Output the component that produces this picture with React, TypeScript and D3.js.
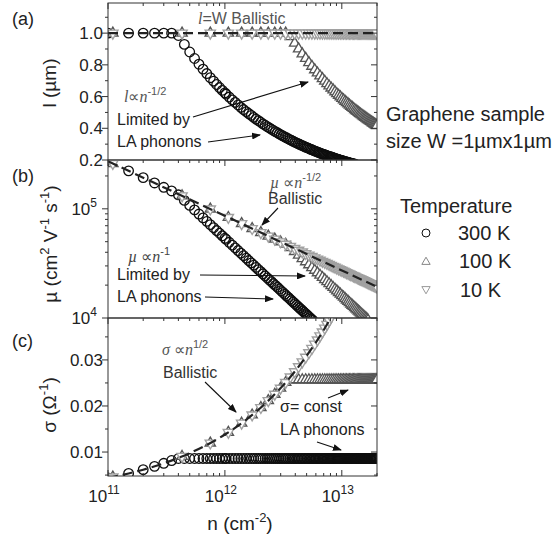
import React from "react";
import * as d3 from "d3";

// carrier density grids, in units of 1e11 cm^-2
const N_UNIT = 1e11;
const nCircle = [1,1.5,2,2.5,3,3.5,4,4.5,5,5.5,6,6.5,7,7.5,8,8.5,9,9.5,10,
  10.24,10.89,11.56,12.25,12.96,13.69,14.44,15.21,16,16.81,17.64,18.49,19.36,20.25,21.16,22.09,23.04,24.01,25,
  26.01,27.04,28.09,29.16,30.25,31.36,32.49,33.64,34.81,36,37.21,38.44,39.69,40.96,42.25,43.56,44.89,46.24,47.61,49,
  50.41,51.84,53.29,54.76,56.25,57.76,59.29,60.84,62.41,64,65.61,67.24,68.89,70.56,72.25,73.96,75.69,77.44,79.21,81,
  82.81,84.64,86.49,88.36,90.25,92.16,94.09,96.04,98.01,100,102.01,104.04,106.09,108.16,110.25,112.36,114.49,116.64,118.81,121,
  123.21,125.44,127.69,129.96,132.25,134.56,136.89,139.24,141.61,144,146.41,148.84,151.29,153.76,156.25,158.76,161.29,163.84,166.41,169,
  171.61,174.24,176.89,179.56,182.25,184.96,187.69,190.44,193.21,196,198.81];
const nTri = [1.1,4.3,7.5,10.7,13.9,17.1,20.3,23.5,26.7,29.9,33.1,36.3,39.5,42.7,45.9,49.1,52.3,55.5,58.7,61.9,65.1,68.3,71.5,74.7,77.9,81.1,84.3,87.5,90.7,93.9,97.1,100.3,103.5,106.7,109.9,113.1,116.3,119.5,122.7,125.9,129.1,132.3,135.5,138.7,141.9,145.1,148.3,151.5,154.7,157.9,161.1,164.3,167.5,170.7,173.9,177.1,180.3,183.5,186.7,189.9,193.1,196.3,199.5];

// (a) mean free path l (um)
const l300 = [1,1,1,1,1,1,0.985,0.929,0.881,0.840,0.804,0.773,0.745,0.719,0.697,0.676,0.657,0.639,0.623,
  0.616,0.597,0.579,0.563,0.547,0.532,0.518,0.505,0.493,0.481,0.469,0.458,0.448,0.438,0.428,0.419,0.410,0.402,0.394,
  0.386,0.379,0.372,0.365,0.358,0.352,0.346,0.340,0.334,0.328,0.323,0.318,0.313,0.308,0.303,0.299,0.294,0.290,0.286,0.281,
  0.278,0.274,0.270,0.266,0.263,0.259,0.256,0.253,0.249,0.246,0.243,0.240,0.237,0.235,0.232,0.229,0.226,0.224,0.221,0.219,
  0.217,0.214,0.212,0.210,0.207,0.205,0.203,0.201,0.199,0.197,0.195,0.193,0.191,0.189,0.188,0.186,0.184,0.182,0.181,0.179,
  0.178,0.176,0.174,0.173];
const l100 = [1,1,1,1,1,1,1,1,1,1,1,0.978,0.937,0.901,0.869,0.841,0.814,0.791,0.769,0.749,0.730,0.713,0.697,0.681,0.667,0.654,0.642,0.630,0.618,0.608,0.598,0.588,0.579,0.570,0.562,0.554,0.546,0.539,0.532,0.525,0.518,0.512,0.506,0.500,0.494,0.489,0.484,0.479,0.474,0.469,0.464,0.460,0.455,0.451,0.447,0.443,0.439,0.435,0.431,0.427,0.424,0.420,0.417];
const l10 = [1,1,1,1,1,1,1,1,1,1,1,1,1,1,1,1,1,1,1,1,1,1,1,1,1,1,1,1,1,1,1,1,1,1,1,1,1,1,1,1,1,1,1,1,1,1,1,1,1,1,1,1,1,1,1,1,1,1,1,1,1,1,1];

// (b) mobility (cm^2 V^-1 s^-1)
const mu300 = [273000,222700,192900,172500,157500,145800,134400,119400,107500,97730,89580,82690,76790,71670,67190,63240,59720,56580,53750,
  52490,49360,46500,43880,41470,39260,37220,35340,33590,31980,30470,29070,27760,26540,25400,24330,23330,22390,21500,
  20670,19880,19140,18430,17770,17140,16540,15980,15440,14930,14450,13980,13540,13120,12720,12340,11970,11620,11290,10970,
  10660,10370,10090,9816,9556];
const mu100 = [260100,131500,99590,83380,73160,65960,60540,56260,52780,49880,47410,44240,40660,37610,34990,32710,30710,28940,27360,25940,24670,23510,22460,21500,20620,19800,19050,18350,17710,17100,16540,16010,15520,15050,14610,14200,13810,13440,13090,12760,12440,12140,11850,11580,11320,11070,10830,10600,10380,10170,9970,9770,9590];
const mu10 = [260100,131500,99590,83380,73160,65960,60540,56260,52780,49880,47410,45270,43400,41740,40260,38920,37710,36610,35600,34670,33800,33000,32260,31560,30900,30290,29710,29160,28640,28150,27680,27230,26810,26400,26020,25650,25290,24950,24620,24310,24010,23710,23430,23160,22900,22640,22400,22160,21930,21710,21490,21280,21070,20880,20680,20500,20310,20140,19960,19790,19630,19470,19310];

// (c) conductivity (1/Ohm)
const sigma300 = [0.00436,0.00535,0.00617,0.0069,0.00756,0.00816,
  0.0086,0.0086,0.0086,0.0086,0.0086,0.0086,0.0086,0.0086,0.0086,0.0086,0.0086,0.0086,0.0086,
  0.0086,0.0086,0.0086,0.0086,0.0086,0.0086,0.0086,0.0086,0.0086,0.0086,0.0086,0.0086,0.0086,0.0086,0.0086,0.0086,0.0086,0.0086,0.0086,
  0.0086,0.0086,0.0086,0.0086,0.0086,0.0086,0.0086,0.0086,0.0086,0.0086,0.0086,0.0086,0.0086,0.0086,0.0086,0.0086,0.0086,0.0086,0.0086,0.0086,
  0.0086,0.0086,0.0086,0.0086,0.0086,0.0086,0.0086,0.0086,0.0086,0.0086,0.0086,0.0086,0.0086,0.0086,0.0086,0.0086,0.0086,0.0086,0.0086,0.0086,
  0.0086,0.0086,0.0086,0.0086,0.0086,0.0086,0.0086,0.0086,0.0086,0.0086,0.0086,0.0086,0.0086,0.0086,0.0086,0.0086,0.0086,0.0086,0.0086,0.0086,
  0.0086,0.0086,0.0086,0.0086,0.0086,0.0086,0.0086,0.0086,0.0086,0.0086,0.0086,0.0086,0.0086,0.0086,0.0086,0.0086,0.0086,0.0086,0.0086,0.0086,
  0.0086,0.0086,0.0086,0.0086,0.0086,0.0086,0.0086,0.0086,0.0086,0.0086,0.0086];
const sigma100 = [0.00458,0.00905,0.01195,0.01428,0.01627,0.01805,0.01966,0.02116,0.02255,0.02386,0.02511,
  0.0257,0.0257,0.0257,0.0257,0.0257,0.0257,0.0257,0.0257,0.0257,0.0257,0.0257,0.0257,0.0257,
  0.0257,0.0257,0.0257,0.0257,0.0257,0.0257,0.0257,0.0257,0.0257,0.0257,0.0257,0.0257,0.0257,
  0.0257,0.0257,0.0257,0.0257,0.0257,0.0257,0.0257,0.0257,0.0257,0.0257,0.0257,0.0257,0.0257,
  0.0257,0.0257,0.0257,0.0257,0.0257,0.0257,0.0257,0.0257,0.0257,0.0257,0.0257,0.0257,0.0257];
const sigma10 = [0.00458,0.00905,0.01195,0.01428,0.01627,0.01805,0.01966,0.02116,0.02255,0.02386,0.02511,0.02629,0.02743,0.02852,0.02957,0.03058,0.03156,0.03251,0.03344,0.03434,0.03521,0.03607,0.0369,0.03772,0.03852,0.0393];

// ballistic reference (dashed) curves
const balLN = [1, 200];
const balL = [1, 1];
const balMuN = [1, 200];
const balMu = [272750, 19290];
const balSigN = [1,1.5,2,3,5,7,10,15,20,30,40,50,60,70,80,90];
const balSig = [0.00436,0.00535,0.00617,0.00756,0.00976,0.01155,0.0138,0.0169,0.0195,0.0239,0.0276,0.0309,0.0338,0.0365,0.039,0.0414];

// tick values / labels
const xMajor = [1e11, 1e12, 1e13];
const xMajorExp = ["11", "12", "13"];
const yaMajor = [0.2, 0.4, 0.6, 0.8, 1.0];
const yaMinor = [0.3, 0.5, 0.7, 0.9, 1.1];
const yaLabels = ["0.2", "0.4", "0.6", "0.8", "1.0"];
const ybMajor = [1e4, 1e5];
const ybExp = ["4", "5"];
const ycMajor = [0.01, 0.02, 0.03];
const ycMinor = [0.005, 0.015, 0.025, 0.035];
const ycLabels = ["0.01", "0.02", "0.03"];

const C300 = "#0e0e0e";
const C100 = "#555555";
const C10 = "#a0a0a0";
const SANS = "'Liberation Sans', Arial, Helvetica, sans-serif";
const SERIF = "'Liberation Serif', 'Times New Roman', serif";

const X0 = 108, X1 = 377;
const PA = [3, 160], PB = [160, 318], PC = [318, 476];

const triPath = d3.symbol(d3.symbolTriangle, 46)() as string;
const triLegend = d3.symbol(d3.symbolTriangle, 30)() as string;

function Series({ ns, vals, x, y, kind, color }: any) {
  return (
    <g>
      {vals.map((v: number, i: number) => {
        const cx = x(ns[i] * N_UNIT);
        const cy = y(v);
        if (kind === "circle")
          return <circle key={i} cx={cx} cy={cy} r={4.8} fill="none" stroke={color} strokeWidth={1.3} />;
        return (
          <path key={i} d={triPath} transform={`translate(${cx},${cy})${kind === "down" ? " rotate(180)" : ""}`}
            fill="#fff" stroke={color} strokeWidth={1.35} />
        );
      })}
    </g>
  );
}

function Arrow({ x1, y1, x2, y2 }: any) {
  return <line x1={x1} y1={y1} x2={x2} y2={y2} stroke="#111" strokeWidth={1.1} markerEnd="url(#arr)" />;
}

export default function App() {
  const x = d3.scaleLog().domain([1e11, 2e13]).range([X0, X1]);
  const ya = d3.scaleLinear().domain([0.2, 1.19]).range([PA[1], PA[0]]);
  const yb = d3.scaleLog().domain([1e4, 2.8e5]).range([PB[1], PB[0]]);
  const yc = d3.scaleLinear().domain([0.0048, 0.0391]).range([PC[1], PC[0]]);

  const xTicks = x.ticks();
  const isMajorLog = (t: number) => Math.abs(Math.log10(t) - Math.round(Math.log10(t))) < 1e-6;
  const ybTicks = yb.ticks();

  const lineA = d3.line<number>().x((d) => x(d * N_UNIT)).y((_, i) => ya(balL[i]));
  const lineB = d3.line<number>().x((d) => x(d * N_UNIT)).y((_, i) => yb(balMu[i]));
  const lineC = d3.line<number>().x((d) => x(d * N_UNIT)).y((_, i) => yc(balSig[i])).curve(d3.curveMonotoneX);

  const frame = (top: number, bottom: number, bottomTicks: boolean) => (
    <g>
      <rect x={X0} y={top} width={X1 - X0} height={bottom - top} fill="none" stroke="#333" strokeWidth={1} />
      {xTicks.map((t, i) => {
        const L = isMajorLog(t) ? 6 : 3;
        const xx = x(t);
        return (
          <g key={i}>
            <line x1={xx} x2={xx} y1={top} y2={top + L} stroke="#333" />
            {bottomTicks && <line x1={xx} x2={xx} y1={bottom} y2={bottom - L} stroke="#333" />}
          </g>
        );
      })}
    </g>
  );

  const yTick = (yy: number, major: boolean, k: string) => {
    const L = major ? 6 : 3;
    return (
      <g key={k}>
        <line x1={X0 - L} x2={X0} y1={yy} y2={yy} stroke="#333" />
        <line x1={X1 - L} x2={X1} y1={yy} y2={yy} stroke="#333" />
      </g>
    );
  };

  return (
    <svg width={560} height={540} style={{ position: "absolute", left: 0, top: 0, background: "#fff" }}
      fontFamily={SANS}>
      <defs>
        <clipPath id="ca"><rect x={X0} y={PA[0]} width={X1 - X0} height={PA[1] - PA[0]} /></clipPath>
        <clipPath id="cb"><rect x={X0} y={PB[0]} width={X1 - X0} height={PB[1] - PB[0]} /></clipPath>
        <clipPath id="cc"><rect x={X0} y={PC[0]} width={X1 - X0} height={PC[1] - PC[0]} /></clipPath>
        <marker id="arr" markerUnits="userSpaceOnUse" markerWidth={9} markerHeight={7} refX={8} refY={3.5} orient="auto">
          <path d="M0,0 L9,3.5 L0,7 Z" fill="#111" />
        </marker>
      </defs>

      {/* Panel (a) */}
      <g clipPath="url(#ca)">
        <Series ns={nCircle} vals={l300} x={x} y={ya} kind="circle" color={C300} />
        <Series ns={nTri} vals={l100} x={x} y={ya} kind="up" color={C100} />
        <Series ns={nTri} vals={l10} x={x} y={ya} kind="down" color={C10} />
        <path d={lineA(balLN) as string} fill="none" stroke="#222" strokeWidth={2.2} strokeDasharray="10,5" />
      </g>
      {frame(PA[0], PA[1], false)}
      {yaMajor.map((v, i) => yTick(ya(v), true, "am" + i))}
      {yaMinor.map((v, i) => yTick(ya(v), false, "an" + i))}
      {yaMajor.map((v, i) => (
        <text key={i} x={103} y={ya(v)} dy="0.36em" textAnchor="end" fontSize={17} fill="#222">{yaLabels[i]}</text>
      ))}

      {/* Panel (b) */}
      <g clipPath="url(#cb)">
        <Series ns={nCircle} vals={mu300} x={x} y={yb} kind="circle" color={C300} />
        <Series ns={nTri} vals={mu100} x={x} y={yb} kind="up" color={C100} />
        <Series ns={nTri} vals={mu10} x={x} y={yb} kind="down" color={C10} />
        <path d={lineB(balMuN) as string} fill="none" stroke="#222" strokeWidth={2.2} strokeDasharray="10,5" />
      </g>
      {frame(PB[0], PB[1], false)}
      {ybTicks.map((v, i) => yTick(yb(v), isMajorLog(v), "bm" + i))}
      {ybMajor.map((v, i) => (
        <text key={i} x={97} y={yb(v)} dy="0.36em" textAnchor="end" fontSize={17} fill="#222">10<tspan dy={-8} fontSize={12}>{ybExp[i]}</tspan></text>
      ))}

      {/* Panel (c) */}
      <g clipPath="url(#cc)">
        <Series ns={nCircle} vals={sigma300} x={x} y={yc} kind="circle" color={C300} />
        <Series ns={nTri} vals={sigma100} x={x} y={yc} kind="up" color={C100} />
        <Series ns={nTri} vals={sigma10} x={x} y={yc} kind="down" color={C10} />
        <path d={lineC(balSigN) as string} fill="none" stroke="#222" strokeWidth={2.2} strokeDasharray="10,5" />
      </g>
      {frame(PC[0], PC[1], true)}
      {ycMajor.map((v, i) => yTick(yc(v), true, "cm" + i))}
      {ycMinor.map((v, i) => yTick(yc(v), false, "cn" + i))}
      {ycMajor.map((v, i) => (
        <text key={i} x={103} y={yc(v)} dy="0.36em" textAnchor="end" fontSize={17} fill="#222">{ycLabels[i]}</text>
      ))}

      {/* x tick labels */}
      {xMajor.map((v, i) => (
        <text key={i} x={x(v) - 4} y={502} textAnchor="middle" fontSize={17} fill="#222">10<tspan dy={-8} fontSize={12}>{xMajorExp[i]}</tspan></text>
      ))}
      <text x={240} y={530} textAnchor="middle" fontSize={19} fill="#222">n (cm<tspan dy={-8} fontSize={13}>-2</tspan><tspan dy={8}>)</tspan></text>

      {/* y axis labels */}
      <text transform="translate(56,83) rotate(-90)" textAnchor="middle" fontSize={19} fill="#222">l (µm)</text>
      <text transform="translate(57,244) rotate(-90)" textAnchor="middle" fontSize={19} fill="#222">
        µ (cm<tspan dy={-8} fontSize={13}>2</tspan><tspan dy={8}> V</tspan><tspan dy={-8} fontSize={13}>-1</tspan><tspan dy={8}> s</tspan><tspan dy={-8} fontSize={13}>-1</tspan><tspan dy={8}>)</tspan>
      </text>
      <text transform="translate(56,405) rotate(-90)" textAnchor="middle" fontSize={19} fill="#222">
        σ (Ω<tspan dy={-8} fontSize={13}>-1</tspan><tspan dy={8}>)</tspan>
      </text>

      {/* panel letters */}
      <text x={12} y={25} fontSize={18} fill="#222">(a)</text>
      <text x={12} y={182} fontSize={18} fill="#222">(b)</text>
      <text x={12} y={347} fontSize={18} fill="#222">(c)</text>

      {/* annotations (a) */}
      <text x={198} y={24} fontSize={16} fill="#555"><tspan fontFamily={SERIF} fontStyle="italic">l</tspan>=W Ballistic</text>
      <text x={124} y={102} fontSize={16} fill="#555"><tspan fontFamily={SERIF} fontStyle="italic">l</tspan><tspan fontFamily={SERIF}>∝</tspan><tspan fontFamily={SERIF} fontStyle="italic">n</tspan><tspan dy={-7} fontSize={11}>-1/2</tspan></text>
      <text x={117} y={125} fontSize={16} fill="#222">Limited by</text>
      <text x={117} y={147} fontSize={16} fill="#222">LA phonons</text>
      <Arrow x1={193} y1={117} x2={308} y2={82} />
      <Arrow x1={208} y1={142} x2={260} y2={135} />

      {/* annotations (b) */}
      <text x={270} y={188} fontSize={16} fill="#555"><tspan fontFamily={SERIF} fontStyle="italic">µ</tspan><tspan fontFamily={SERIF}> ∝</tspan><tspan fontFamily={SERIF} fontStyle="italic">n</tspan><tspan dy={-7} fontSize={11}>-1/2</tspan></text>
      <text x={268} y={204} fontSize={16} fill="#333">Ballistic</text>
      <Arrow x1={278} y1={208} x2={262} y2={225} />
      <text x={128} y={262} fontSize={16} fill="#444"><tspan fontFamily={SERIF} fontStyle="italic">µ</tspan><tspan fontFamily={SERIF}> ∝</tspan><tspan fontFamily={SERIF} fontStyle="italic">n</tspan><tspan dy={-7} fontSize={11}>-1</tspan></text>
      <text x={117} y={280} fontSize={16} fill="#222">Limited by</text>
      <text x={117} y={302} fontSize={16} fill="#222">LA phonons</text>
      <Arrow x1={200} y1={275} x2={305} y2={276} />
      <Arrow x1={205} y1={297} x2={273} y2={299} />

      {/* annotations (c) */}
      <text x={162} y={355} fontSize={16} fill="#555"><tspan fontFamily={SERIF} fontStyle="italic">σ</tspan><tspan fontFamily={SERIF}> ∝</tspan><tspan fontFamily={SERIF} fontStyle="italic">n</tspan><tspan dy={-7} fontSize={11}>1/2</tspan></text>
      <text x={163} y={378} fontSize={16} fill="#333">Ballistic</text>
      <Arrow x1={205} y1={382} x2={236} y2={412} />
      <text x={280} y={412} fontSize={16} fill="#222">σ= const</text>
      <Arrow x1={328} y1={398} x2={348} y2={390} />
      <text x={280} y={435} fontSize={16} fill="#222">LA phonons</text>
      <Arrow x1={317} y1={442} x2={341} y2={450} />

      {/* right-side text */}
      <text x={386} y={121} fontSize={20} fill="#222">Graphene sample</text>
      <text x={386} y={148} fontSize={20} fill="#222">size W =1µmx1µm</text>

      {/* legend */}
      <text x={400} y={213} fontSize={20} fill="#222">Temperature</text>
      <circle cx={426} cy={233} r={4} fill="#fff" stroke={C300} strokeWidth={1} />
      <text x={458} y={240} fontSize={20} fill="#222">300 K</text>
      <path d={triLegend} transform="translate(426,262)" fill="#fff" stroke="#888" strokeWidth={1} />
      <text x={459} y={268} fontSize={20} fill="#222">100 K</text>
      <path d={triLegend} transform="translate(426,289) rotate(180)" fill="#fff" stroke="#999" strokeWidth={1} />
      <text x={460} y={297} fontSize={20} fill="#222">10 K</text>
    </svg>
  );
}
